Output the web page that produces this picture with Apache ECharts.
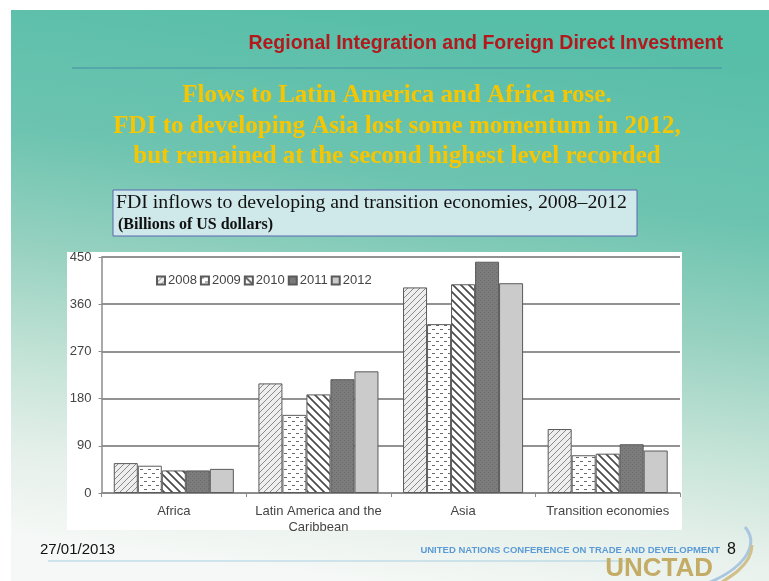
<!DOCTYPE html>
<html>
<head>
<meta charset="utf-8">
<script src="https://cdn.jsdelivr.net/npm/echarts@6/dist/echarts.min.js"></script>
<style>
  html, body { margin: 0; padding: 0; background: #fff; }
  #chart { width: 769px; height: 581px; }
</style>
</head>
<body>
<div id="chart"></div>
<script>
// data (billions of US dollars)
const regions = ['Africa', 'Latin America and the\nCaribbean', 'Asia', 'Transition economies'];
const years = ['2008', '2009', '2010', '2011', '2012'];
const fdi2008 = [57, 209, 392, 122];
const fdi2009 = [52, 149, 322, 72];
const fdi2010 = [43, 188, 398, 75];
const fdi2011 = [43, 217, 441, 93];
const fdi2012 = [46, 232, 400, 81];
const yTicks = [0, 90, 180, 270, 360, 450];

const headline = [
    'Flows to Latin America and Africa rose.',
    'FDI to developing Asia lost some momentum in 2012,',
    'but remained at the second highest level recorded'
];

// little canvas patterns for the black & white fills
function makePattern(w, h, draw) {
    const c = document.createElement('canvas');
    c.width = w;
    c.height = h;
    draw(c.getContext('2d'));
    return { image: c, repeat: 'repeat' };
}

const hatch2008 = makePattern(6, 6, ctx => {
    ctx.fillStyle = '#eeeeee';
    ctx.fillRect(0, 0, 6, 6);
    ctx.strokeStyle = '#8a8a8a';
    ctx.lineWidth = 1;
    ctx.beginPath();
    ctx.moveTo(-1, 7); ctx.lineTo(7, -1);
    ctx.moveTo(-4, 4); ctx.lineTo(4, -4);
    ctx.moveTo(2, 10); ctx.lineTo(10, 2);
    ctx.stroke();
});
const dash2009 = makePattern(8, 8, ctx => {
    ctx.fillStyle = '#ffffff';
    ctx.fillRect(0, 0, 8, 8);
    ctx.fillStyle = '#6a6a6a';
    ctx.fillRect(0, 1, 3, 1);
    ctx.fillRect(4, 5, 3, 1);
});
const stripe2010 = makePattern(8, 8, ctx => {
    ctx.fillStyle = '#ffffff';
    ctx.fillRect(0, 0, 8, 8);
    ctx.strokeStyle = '#4a4a4a';
    ctx.lineWidth = 1.7;
    ctx.beginPath();
    ctx.moveTo(-1, -1); ctx.lineTo(9, 9);
    ctx.moveTo(-5, 3); ctx.lineTo(5, 13);
    ctx.moveTo(3, -5); ctx.lineTo(13, 5);
    ctx.stroke();
});
const dot2011 = makePattern(4, 4, ctx => {
    ctx.fillStyle = '#7c7c7c';
    ctx.fillRect(0, 0, 4, 4);
    ctx.fillStyle = '#6a6a6a';
    ctx.fillRect(0, 0, 1, 1);
    ctx.fillRect(2, 2, 1, 1);
});

const fills = [hatch2008, dash2009, stripe2010, dot2011, '#cbcbcb'];
const values = [fdi2008, fdi2009, fdi2010, fdi2011, fdi2012];

const chart = echarts.init(document.getElementById('chart'), null, { renderer: 'canvas' });

const graphics = [
    // slide background
    {
        type: 'rect', z: -10, silent: true,
        shape: { x: 11, y: 10, width: 758, height: 571 },
        style: {
            fill: new echarts.graphic.LinearGradient(0.55, 0, 0.45, 1, [
                { offset: 0, color: '#57bea8' },
                { offset: 0.3, color: '#6dc4b0' },
                { offset: 0.5, color: '#97d1c0' },
                { offset: 0.7, color: '#c6e4d8' },
                { offset: 0.86, color: '#e6f0eb' },
                { offset: 1, color: '#f5f8f6' }
            ])
        }
    },
    {
        type: 'text', silent: true,
        x: 723, y: 44,
        style: {
            text: 'Regional Integration and Foreign Direct Investment',
            fill: '#b3181c', font: 'bold 19.5px "Liberation Sans", Arial, sans-serif',
            align: 'right', verticalAlign: 'middle'
        }
    },
    {
        type: 'line', silent: true,
        shape: { x1: 72, y1: 68, x2: 722, y2: 68 },
        style: { stroke: '#4f9fa8', lineWidth: 1.5 }
    },
    // chart title box
    {
        type: 'rect', silent: true,
        shape: { x: 113, y: 190, width: 524, height: 46 },
        style: { fill: '#cfe8ea', stroke: '#5a66b0', lineWidth: 1 }
    },
    {
        type: 'text', silent: true, x: 116, y: 203,
        style: {
            text: 'FDI inflows to developing and transition economies, 2008\u20132012',
            fill: '#111', font: '19.8px "Liberation Serif", "Times New Roman", serif',
            verticalAlign: 'middle'
        }
    },
    {
        type: 'text', silent: true, x: 118, y: 225,
        style: {
            text: '(Billions of US dollars)',
            fill: '#111', font: 'bold 16px "Liberation Serif", "Times New Roman", serif',
            verticalAlign: 'middle'
        }
    },
    // white panel behind the plot
    {
        type: 'rect', z: -5, silent: true,
        shape: { x: 67, y: 252, width: 615, height: 278 },
        style: { fill: '#ffffff' }
    },
    // footer
    {
        type: 'text', silent: true, x: 40, y: 550,
        style: {
            text: '27/01/2013', fill: '#111',
            font: '15px "Liberation Sans", Arial, sans-serif', verticalAlign: 'middle'
        }
    },
    {
        type: 'line', silent: true,
        shape: { x1: 48, y1: 561, x2: 625, y2: 561 },
        style: { stroke: '#a9cfe0', lineWidth: 1 }
    },
    {
        type: 'text', silent: true, x: 720, y: 550,
        style: {
            text: 'UNITED NATIONS CONFERENCE ON TRADE AND DEVELOPMENT',
            fill: '#5b9bd5', font: 'bold 9.5px "Liberation Sans", Arial, sans-serif',
            align: 'right', verticalAlign: 'middle'
        }
    },
    {
        type: 'text', silent: true, x: 727, y: 550,
        style: {
            text: '8', fill: '#111',
            font: '16px "Liberation Sans", Arial, sans-serif', verticalAlign: 'middle'
        }
    },
    {
        type: 'text', silent: true, x: 713, y: 569,
        style: {
            text: 'UNCTAD', fill: '#c4ac66',
            font: 'bold 26px "Liberation Sans Narrow", "Liberation Sans", Arial, sans-serif',
            align: 'right', verticalAlign: 'middle'
        }
    },
    {
        type: 'bezierCurve', silent: true,
        shape: { x1: 745, y1: 527, cpx1: 760, cpy1: 545, cpx2: 745, cpy2: 570, x2: 700, y2: 586 },
        style: { stroke: '#a9c7e0', lineWidth: 3, fill: null }
    },
    {
        type: 'bezierCurve', silent: true,
        shape: { x1: 752, y1: 545, cpx1: 752, cpy1: 565, cpx2: 730, cpy2: 578, x2: 708, y2: 590 },
        style: { stroke: '#d2c08a', lineWidth: 3, fill: null }
    }
];

headline.forEach((line, i) => {
    graphics.push({
        type: 'text', silent: true, x: 397, y: 96 + i * 30.5,
        style: {
            text: line, fill: '#f7c600',
            font: 'bold 25px "Liberation Serif", "Times New Roman", serif',
            align: 'center', verticalAlign: 'middle'
        }
    });
});

const option = {
    animation: false,
    graphic: graphics,
    legend: {
        left: 151,
        top: 269,
        itemWidth: 8,
        itemHeight: 8,
        itemGap: 3,
        icon: 'rect',
        textStyle: {
            color: '#444',
            fontSize: 13,
            fontFamily: '"Liberation Sans", Arial, sans-serif',
            padding: [0, 0, 0, -2]
        },
        data: years
    },
    grid: {
        left: 101.5,
        right: 89,
        top: 257,
        bottom: 88,
        containLabel: false
    },
    xAxis: {
        type: 'category',
        data: regions,
        axisLine: { lineStyle: { color: '#8c8c8c', width: 1.5 } },
        axisTick: { show: true, length: 4, lineStyle: { color: '#8c8c8c' } },
        axisLabel: {
            interval: 0,
            color: '#444',
            fontSize: 13,
            fontFamily: '"Liberation Sans", Arial, sans-serif',
            lineHeight: 16,
            margin: 10
        }
    },
    yAxis: {
        type: 'value',
        min: yTicks[0],
        max: yTicks[yTicks.length - 1],
        interval: yTicks[1] - yTicks[0],
        axisLine: { show: true, lineStyle: { color: '#8c8c8c', width: 1.5 } },
        axisTick: { show: true, length: 3, lineStyle: { color: '#8c8c8c' } },
        axisLabel: {
            color: '#444',
            fontSize: 13,
            fontFamily: '"Liberation Sans", Arial, sans-serif',
            margin: 10
        },
        splitLine: { lineStyle: { color: '#6e6e6e', width: 1.5 } }
    },
    series: years.map((y, i) => ({
        name: y,
        type: 'bar',
        barGap: 0,
        barCategoryGap: '17%',
        itemStyle: {
            color: fills[i],
            borderColor: '#5a5a5a',
            borderWidth: 1
        },
        data: values[i]
    }))
};

chart.setOption(option);
</script>
</body>
</html>
